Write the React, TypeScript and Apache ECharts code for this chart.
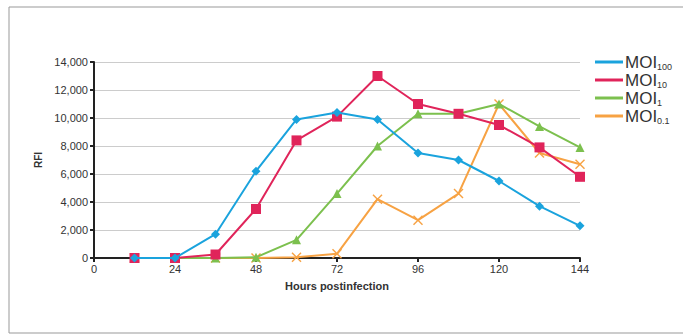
import React, { useEffect, useRef } from "react";
import * as echarts from "echarts";

const hours = [12, 24, 36, 48, 60, 72, 84, 96, 108, 120, 132, 144];
const moi100 = [0, 0, 1700, 6200, 9900, 10400, 9900, 7500, 7000, 5500, 3700, 2300];
const moi10 = [0, 0, 250, 3500, 8400, 10100, 13000, 11000, 10300, 9500, 7900, 5800];
const moi1 = [0, 0, 0, 50, 1300, 4600, 8000, 10300, 10300, 11000, 9400, 7900];
const moi01 = [0, 0, 0, 0, 50, 300, 4200, 2700, 4600, 11000, 7500, 6700];
const seriesNames = ["MOI100", "MOI10", "MOI1", "MOI0.1"];
const seriesSubs = ["100", "10", "1", "0.1"];

const crossPath =
  "path://M1,0L5,4L9,0L10,1L6,5L10,9L9,10L5,6L1,10L0,9L4,5L0,1Z";

export default function App() {
  const ref = useRef<HTMLDivElement>(null);
  useEffect(() => {
    if (!ref.current) return;
    const chart = echarts.init(ref.current, undefined, { renderer: "svg" });
    const pair = (arr: number[]) => hours.map((h, i) => [h, arr[i]]);
    const font = "'Liberation Sans Narrow', 'Liberation Sans', Arial, sans-serif";
    const defs = [
      { data: moi100, color: "#1aa3dd", symbol: "diamond", size: 9 },
      { data: moi10, color: "#e0245a", symbol: "rect", size: 10 },
      { data: moi1, color: "#7cc04e", symbol: "triangle", size: 9 },
      { data: moi01, color: "#f7a243", symbol: crossPath, size: 10 },
    ];
    chart.setOption({
      animation: false,
      textStyle: { fontFamily: font },
      graphic: [
        {
          type: "rect",
          shape: { x: 9, y: 7, width: 700, height: 326 },
          style: { fill: "none", stroke: "#999", lineWidth: 1 },
          silent: true,
        },
      ],
      legend: {
        orient: "vertical",
        left: 590,
        top: 48,
        itemWidth: 28,
        itemHeight: 3,
        itemGap: 0,
        icon: "rect",
        data: seriesNames,
        formatter: (name: string) => {
          const i = seriesNames.indexOf(name);
          return `{a|MOI}{b|${seriesSubs[i]}}`;
        },
        textStyle: {
          padding: [0, 0, 0, -3],
          rich: {
            a: { fontSize: 17, color: "#333", fontFamily: "'Liberation Sans', Arial, sans-serif", lineHeight: 17.5 },
            b: { fontSize: 9, color: "#333", padding: [9, 0, 0, 0], fontFamily: "'Liberation Sans', Arial, sans-serif", lineHeight: 17.5 },
          },
        },
      },
      grid: { left: 94, right: 103, top: 62, bottom: 76, containLabel: false },
      xAxis: {
        type: "value",
        min: 0,
        max: 144,
        interval: 24,
        name: "Hours postinfection",
        nameLocation: "middle",
        nameGap: 22,
        nameTextStyle: { fontWeight: "bold", fontSize: 11, color: "#333" },
        axisLine: { show: true, lineStyle: { color: "#222", width: 2 } },
        axisTick: { show: true, length: 4, lineStyle: { color: "#222", width: 2 } },
        axisLabel: { fontSize: 11, color: "#333", margin: 5 },
        splitLine: { show: false },
      },
      yAxis: {
        type: "value",
        min: 0,
        max: 14000,
        interval: 2000,
        name: "RFI",
        nameLocation: "middle",
        nameRotate: 90,
        nameGap: 44,
        nameTextStyle: { fontWeight: "bold", fontSize: 10, color: "#333" },
        axisLine: { show: true, lineStyle: { color: "#222", width: 2 } },
        axisTick: { show: true, length: 4, lineStyle: { color: "#222", width: 2 } },
        axisLabel: {
          fontSize: 11,
          color: "#333",
          margin: 6,
          formatter: (v: number) => v.toLocaleString("en-US"),
        },
        splitLine: { show: true, lineStyle: { color: "#ccc", width: 1 } },
      },
      series: defs.map((d, i) => ({
        name: seriesNames[i],
        type: "line",
        data: pair(d.data),
        symbol: d.symbol,
        symbolSize: d.size,
        showAllSymbol: true,
        itemStyle: { color: d.color },
        lineStyle: { color: d.color, width: 2 },
        z: 2 + (3 - i),
      })),
    });
    return () => chart.dispose();
  }, []);
  return <div ref={ref} style={{ width: 683, height: 334, position: "absolute", left: 0, top: 0 }} />;
}
